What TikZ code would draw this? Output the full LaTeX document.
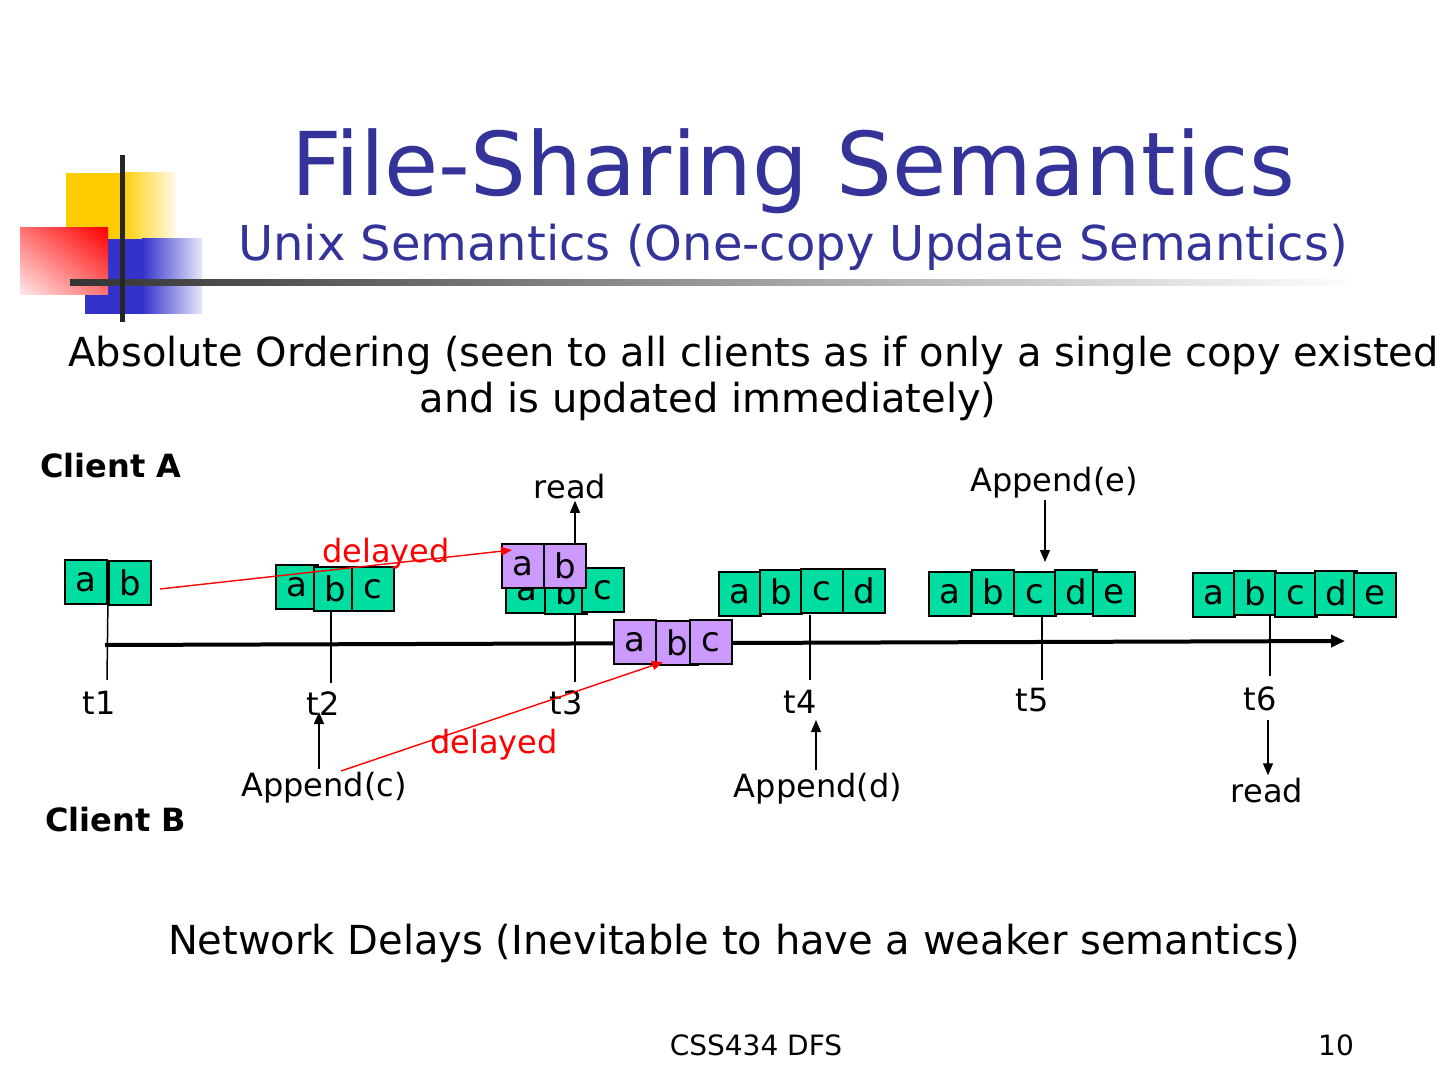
\documentclass[tikz,border=0pt]{standalone}
\usepackage{fontspec}
\setmainfont{DejaVu Sans}
\definecolor{titleBlue}{RGB}{51,51,153}
\definecolor{cellGreen}{RGB}{0,221,160}
\definecolor{cellPurple}{RGB}{204,153,255}
\definecolor{logoGold}{RGB}{255,204,0}
\definecolor{logoBlue}{RGB}{51,51,204}
\usetikzlibrary{arrows.meta, positioning, shadings}

\begin{document}
\begin{tikzpicture}[
  x=0.5pt, y=-0.5pt,
  cell/.style={rectangle, draw=black, line width=0.9pt, fill=cellGreen,
               minimum width=21pt, minimum height=22pt, inner sep=0pt,
               font=\fontsize{17}{17}\selectfont},
  pcell/.style={cell, fill=cellPurple},
  lbl/.style={inner sep=1pt, font=\fontsize{16}{19}\selectfont},
  client/.style={inner sep=0pt, anchor=base west, font=\fontsize{16}{19}\selectfont\bfseries},
  tick/.style={line width=0.75pt},
  tarr/.style={-{Triangle[length=6pt, width=5pt]}, line width=0.6pt},
  darr/.style={-{Triangle[length=5.5pt, width=4.5pt]}, red, line width=0.7pt},
  axis/.style={-{Triangle[length=7pt, width=6pt]}, line width=2pt}
]
\useasboundingbox (0,0) rectangle (1440,1080);
\fill[white] (0,0) rectangle (1440,1080);

% Logo
\fill[logoGold] (66,173) rectangle (122,282);
\shade[left color=logoGold, right color=logoGold!8] (121,173) rectangle (176,282);
\fill[logoBlue] (85,239) rectangle (143,314);
\shade[left color=logoBlue, right color=logoBlue!12] (142,239) rectangle (202,314);
\shade[upper right=red, lower left=red!8, upper left=red!55, lower right=red!55]
  (20,228) rectangle (108,295);
\shade[left color=black!80, right color=white] (70,280) rectangle (1360,286);
\draw[line width=2.5pt, black!85] (122,155) -- (122,322);

% Titles
\node[anchor=base, inner sep=0pt, text=titleBlue, font=\fontsize{44}{50}\selectfont]
  (title) at (793,196) {File-Sharing Semantics};
\node[anchor=base, inner sep=0pt, text=titleBlue, font=\fontsize{24}{29}\selectfont]
  (subtitle) at (793,261) {Unix Semantics (One-copy Update Semantics)};
\node[anchor=base west, inner sep=0pt, font=\fontsize{20}{24}\selectfont]
  (intro1) at (68,367) {Absolute Ordering (seen to all clients as if only a single copy existed};
\node[anchor=base, inner sep=0pt, font=\fontsize{20}{24}\selectfont]
  (intro2) at (708,413) {and is updated immediately)};

\node[client] (clientA) at (40,477) {Client A};
\node[client] (clientB) at (45,831) {Client B};

% Time axis
\coordinate (ax0) at (105,645);
\coordinate (ax1) at (1345,641);
\draw[axis] (ax0) -- (ax1);

% t1
\node[cell] (a1) at (86,582) {a};
\node[cell] (b1) at (130,583) {b};
\coordinate (k1) at (107,680);
\draw[tick] (a1.south east) -- (k1);
\node[lbl, anchor=base] (t1) at (99,714) {t1};

% t2
\node[cell] (a2) at (297,587) {a};
\node[cell] (b2) at (335,589) {b};
\node[cell] (c2) at (373,589) {c};
\coordinate (k2) at (331,683);
\draw[tick] (b2.south -| k2) -- (k2);
\node[lbl, anchor=base] (t2) at (323,715) {t2};

% t3
\node[cell] (a3) at (527,591) {a};
\node[cell] (b3) at (566,592) {b};
\node[cell] (c3) at (603,590) {c};
\node[pcell] (pa3) at (523,566) {a};
\node[pcell] (pb3) at (565,566) {b};
\coordinate (k3) at (575,682);
\draw[tick] (b3.south -| k3) -- (k3);
\node[lbl, anchor=base] (read3) at (570,498) {read};
\draw[tarr] (pb3.north -| k3) -- (read3.south -| k3);
\node[lbl, anchor=base] (t3) at (566,714) {t3};

% copia en transito
\node[pcell] (ma) at (635,642) {a};
\node[pcell] (mb) at (677,643) {b};
\node[pcell] (mc) at (711,642) {c};

% t4
\node[cell] (a4) at (740,594) {a};
\node[cell] (b4) at (781,592) {b};
\node[cell] (c4) at (822,591) {c};
\node[cell] (d4) at (864,591) {d};
\coordinate (k4) at (810,680);
\draw[tick] (b4.south -| k4) -- (k4);
\node[lbl, anchor=base] (t4) at (800,713) {t4};

% t5
\node[cell] (a5) at (950,594) {a};
\node[cell] (b5) at (993,592) {b};
\node[cell] (c5) at (1035,594) {c};
\node[cell] (d5) at (1076,592) {d};
\node[cell] (e5) at (1114,594) {e};
\coordinate (k5) at (1042,680);
\draw[tick] (c5.south -| k5) -- (k5);
\node[lbl, anchor=base] (t5) at (1032,711) {t5};
\node[lbl, anchor=base] (appE) at (1054,491) {Append(e)};
\coordinate (e5in) at (1045,562);
\draw[tarr] (appE.south -| e5in) -- (e5in);

% t6
\node[cell] (a6) at (1214,595) {a};
\node[cell] (b6) at (1255,593) {b};
\node[cell] (c6) at (1296,595) {c};
\node[cell] (d6) at (1336,593) {d};
\node[cell] (e6) at (1375,595) {e};
\coordinate (k6) at (1270,676);
\draw[tick] (b6.south -| k6) -- (k6);
\node[lbl, anchor=base] (t6) at (1260,710) {t6};
\coordinate (r6out) at (1268,720);
\node[lbl, anchor=base] (read6) at (1267,802) {read};
\draw[tarr] (r6out) -- (read6.north -| r6out);

% Client B appends
\node[lbl, anchor=base] (appC) at (324,796) {Append(c)};
\coordinate (c2in) at (319,712);
\draw[tarr] (appC.north -| c2in) -- (c2in);
\node[lbl, anchor=base] (appD) at (818,797) {Append(d)};
\coordinate (d4in) at (816,720);
\draw[tarr] (appD.north -| d4in) -- (d4in);

% Retardos de red
\coordinate (d1s) at (160,589);
\coordinate (d1e) at (512,550);
\draw[darr] (d1s) -- (d1e);
\node[lbl, anchor=base, text=red] (delay1) at (386,562) {delayed};
\coordinate (d2s) at (341,771);
\coordinate (d2e) at (663,662);
\draw[darr] (d2s) -- (d2e);
\node[lbl, anchor=base, text=red] (delay2) at (494,753) {delayed};

% Pie
\node[anchor=base, inner sep=0pt, font=\fontsize{20}{24}\selectfont]
  (network) at (734,954) {Network Delays (Inevitable to have a weaker semantics)};
\node[anchor=base, inner sep=0pt, font=\fontsize{14}{16}\selectfont]
  (footer) at (756,1055) {CSS434 DFS};
\node[anchor=base, inner sep=0pt, font=\fontsize{14}{16}\selectfont]
  (page) at (1336,1055) {10};

\end{tikzpicture}
\end{document}
